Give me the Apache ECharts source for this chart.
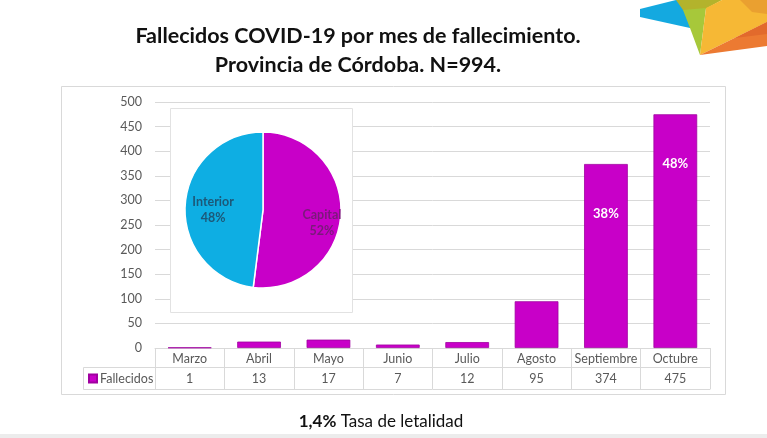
<!DOCTYPE html>
<html><head><meta charset="utf-8">
<script src="https://cdn.jsdelivr.net/npm/echarts@6/dist/echarts.min.js"></script>
<style>html,body{margin:0;padding:0;background:#fff}#c{width:767px;height:438px}</style>
</head><body><div id="c"></div>
<script>
const categories = ['Marzo','Abril','Mayo','Junio','Julio','Agosto','Septiembre','Octubre'];
const fallecidos = [1,13,17,7,12,95,374,475];
const pctLabels = ['','','','','','','38%','48%'];
const pieNames = ['Capital','Interior'];
const pieValues = [52,48];
const yTicks = {min:0, max:500, interval:50};
const seriesName = 'Fallecidos';
const titleText = 'Fallecidos COVID-19 por mes de fallecimiento.\nProvincia de Córdoba. N=994.';
const footerBold = '1,4%';
const footerText = 'Tasa de letalidad';

const FONT = 'Lato';
const GRAY = '#595959';
const LINE = '#d9d9d9';
const MAG = '#c800c8';
const BLUE = '#0eaee3';

const chart = echarts.init(document.getElementById('c'), null, {renderer:'canvas'});
chart.setOption({
  animation:false,
  backgroundColor:'#fff',
  textStyle:{fontFamily:FONT},
  graphic:[
    {type:'rect', shape:{x:61.5, y:86.5, width:664, height:308}, style:{fill:null, stroke:LINE, lineWidth:1}, z:0, silent:true},
    {type:'rect', shape:{x:170.5, y:108.5, width:182, height:204}, style:{fill:'#fff', stroke:'#e2e2e2', lineWidth:1}, z:1, silent:true},
    {type:'polyline', shape:{points:[[155,367.5],[83.5,367.5],[83.5,389.5],[155,389.5]]}, style:{stroke:LINE, lineWidth:1, fill:null}, z:1, silent:true},
    {type:'rect', shape:{x:0, y:434, width:767, height:4}, style:{fill:'#ececec'}, silent:true},
    {type:'text', x:358, y:22, style:{
      text:titleText, textAlign:'center', textVerticalAlign:'top',
      fontWeight:'bold', fontSize:21.5, fontFamily:FONT, fill:'#111', lineHeight:29}, silent:true},
    {type:'text', x:381, y:413, style:{
      text:'{b|'+footerBold+'} '+footerText, textAlign:'center',
      rich:{b:{fontWeight:'bold', fontSize:17, fontFamily:FONT, fill:'#111'}},
      fontSize:17, fontFamily:FONT, fill:'#111'}, silent:true},
    {type:'group', silent:true, children:[
      {type:'polygon', shape:{points:[[640,9],[676,0],[700,0],[690,28],[640,17]]}, style:{fill:'#14a9e0'}},
      {type:'polygon', shape:{points:[[676,0],[722,0],[700,12],[683,10]]}, style:{fill:'#b3b32c'}},
      {type:'polygon', shape:{points:[[683,10],[706,8],[700,55],[690,28]]}, style:{fill:'#a7c83a'}},
      {type:'polygon', shape:{points:[[706,8],[722,0],[767,0],[767,22],[700,55]]}, style:{fill:'#f6b835'}},
      {type:'polygon', shape:{points:[[740,0],[767,0],[767,14],[752,12]]}, style:{fill:'#eaa030'}},
      {type:'polygon', shape:{points:[[700,55],[767,22],[767,46]]}, style:{fill:'#ec7a32'}},
      {type:'polygon', shape:{points:[[735,38],[767,22],[767,34]]}, style:{fill:'#e26a2c'}}
    ]}
  ],
  legend:{
    data:[seriesName], left:88, top:372, padding:0, icon:'rect', itemWidth:8, itemHeight:8, itemGap:4,
    textStyle:{fontFamily:FONT, fontSize:12.5, color:GRAY, padding:[0,0,0,-2]}
  },
  grid:{left:155, right:57, top:102, bottom:90, containLabel:false},
  xAxis:[
    {type:'category', data:categories, position:'bottom',
     axisLine:{show:true, lineStyle:{color:LINE, width:1}},
     axisTick:{show:true, length:41, lineStyle:{color:LINE}},
     axisLabel:{margin:4, color:GRAY, fontSize:12.5, fontFamily:FONT, interval:0}},
    {type:'category', data:fallecidos.map(String), position:'bottom', offset:19,
     axisLine:{show:true, lineStyle:{color:LINE, width:1}},
     axisTick:{show:false},
     axisLabel:{margin:5, color:GRAY, fontSize:12.5, fontFamily:FONT, interval:0}},
    {type:'category', data:categories, position:'bottom', offset:41,
     axisLine:{show:true, lineStyle:{color:LINE, width:1}},
     axisTick:{show:false}, axisLabel:{show:false}}
  ],
  yAxis:{type:'value', min:yTicks.min, max:yTicks.max, interval:yTicks.interval,
    axisLine:{show:false}, axisTick:{show:false},
    axisLabel:{margin:13, color:GRAY, fontSize:12.5, fontFamily:FONT},
    splitLine:{lineStyle:{color:LINE, width:1}}},
  series:[
    {name:seriesName, type:'bar', data:fallecidos, xAxisIndex:0, barWidth:'63%',
     itemStyle:{color:MAG, borderColor:'#a000a0', borderWidth:0.8}, z:2,
     label:{show:true, position:'insideTop', distance:43,
       formatter:(p)=>pctLabels[p.dataIndex],
       color:'#fff', fontWeight:'bold', fontSize:13, fontFamily:FONT}},
    {type:'pie', center:[263,210], radius:[0,78], startAngle:90, clockwise:true, z:5,
     data:pieNames.map((n,i)=>({name:n, value:pieValues[i],
       itemStyle:{color: i===0?MAG:BLUE},
       label:{color: i===0?'#7a1a7a':'#1d5878'}})),
     itemStyle:{borderColor:'#fff', borderWidth:1.5},
     label:{show:true, position:'inside', fontWeight:'bold', fontSize:12.5, fontFamily:FONT, lineHeight:16,
       formatter:(p)=>p.name+'\n'+Math.round(p.percent)+'%'},
     labelLayout:(p)=> p.dataIndex===0 ? {dx:17, dy:10} : {dx:-8, dy:3},
     emphasis:{disabled:true}}
  ]
});
</script></body></html>
